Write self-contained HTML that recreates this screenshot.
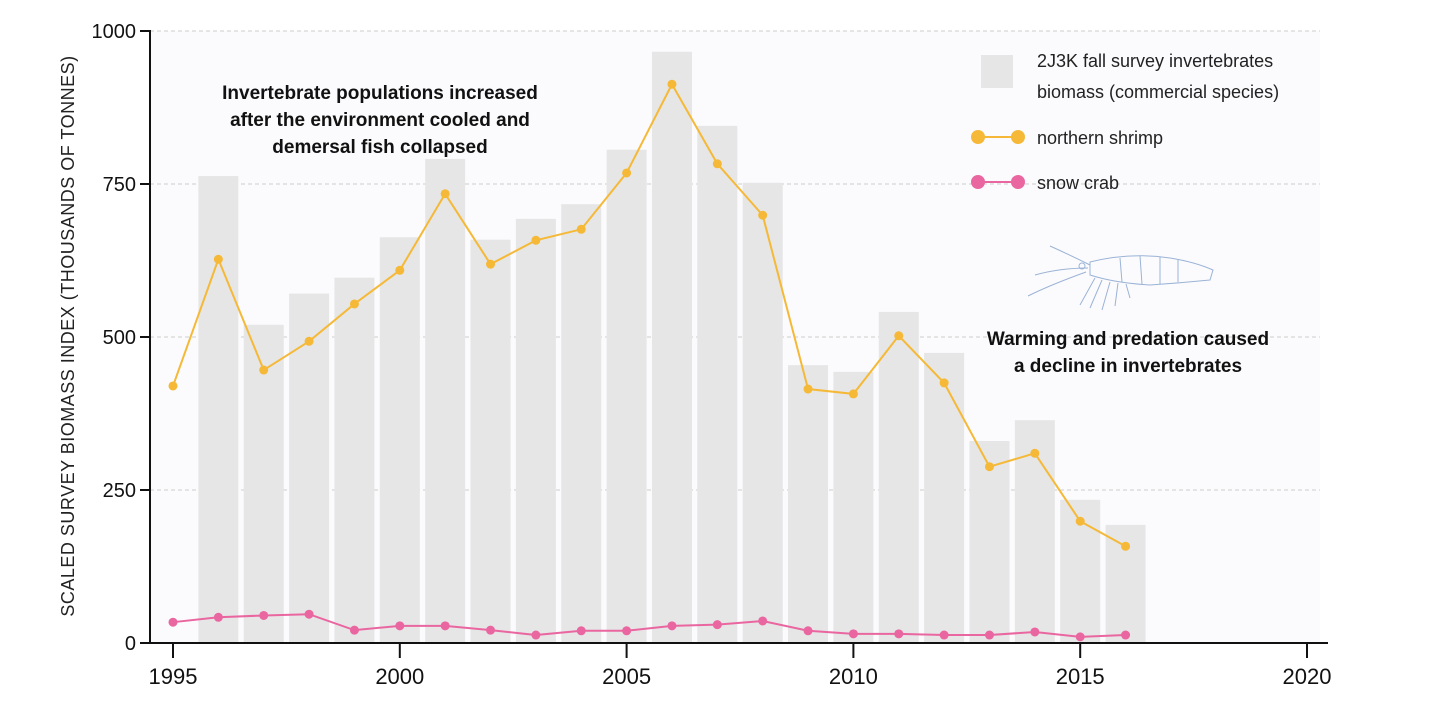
<!DOCTYPE html>
<html><head><meta charset="utf-8"><style>
body{margin:0;background:#fff;font-family:"Liberation Sans","DejaVu Sans",sans-serif}
svg{display:block}
</style></head><body>
<svg id="chart" width="1432" height="714" xmlns="http://www.w3.org/2000/svg">
<rect x="150" y="31" width="1170" height="612" fill="#fbfbfd"/>
<g id="grid"></g><g id="bars"></g><g id="lines"></g><g id="axes"></g>
<text transform="translate(74,336) rotate(-90)" text-anchor="middle" font-size="18" fill="#222" letter-spacing="0.5">SCALED SURVEY BIOMASS INDEX (THOUSANDS OF TONNES)</text>
<g font-size="19" font-weight="bold" fill="#111" text-anchor="middle">
<text x="380" y="99">Invertebrate populations increased</text>
<text x="380" y="126">after the environment cooled and</text>
<text x="380" y="153">demersal fish collapsed</text></g>
<g font-size="19" font-weight="bold" fill="#111" text-anchor="middle">
<text x="1128" y="345">Warming and predation caused</text>
<text x="1128" y="372">a decline in invertebrates</text></g>
<g font-size="18" fill="#222">
<rect x="981" y="55" width="32" height="33" fill="#e6e6e6"/>
<text x="1037" y="67">2J3K fall survey invertebrates</text>
<text x="1037" y="98">biomass (commercial species)</text>
<line x1="978" y1="137" x2="1018" y2="137" stroke="#f5b937" stroke-width="2"/>
<circle cx="978" cy="137" r="7" fill="#f5b937"/><circle cx="1018" cy="137" r="7" fill="#f5b937"/>
<text x="1037" y="144">northern shrimp</text>
<line x1="978" y1="182" x2="1018" y2="182" stroke="#ea66a0" stroke-width="2"/>
<circle cx="978" cy="182" r="7" fill="#ea66a0"/><circle cx="1018" cy="182" r="7" fill="#ea66a0"/>
<text x="1037" y="189">snow crab</text>
</g>
<g fill="none" stroke="#9bb3d6" stroke-width="1">
<path d="M1090 262 Q1130 252 1170 258 Q1195 262 1213 270 L1210 280 Q1180 283 1150 285 Q1115 283 1090 275 Z"/>
<path d="M1120 258 L1122 282 M1140 256 L1142 284 M1160 257 L1160 284 M1178 260 L1178 282"/>
<path d="M1090 265 Q1070 255 1050 246 M1088 268 Q1060 268 1035 275 M1086 272 Q1050 285 1028 296"/>
<path d="M1095 278 L1080 305 M1102 280 L1090 308 M1110 282 L1102 310 M1118 283 L1115 306 M1126 284 L1130 298"/>
<circle cx="1082" cy="266" r="3"/>
</g>
<script>
const years=[1996,1997,1998,1999,2000,2001,2002,2003,2004,2005,2006,2007,2008,2009,2010,2011,2012,2013,2014,2015,2016];
const biomass=[763,520,571,597,663,791,659,693,717,806,966,845,752,454,443,541,474,330,364,234,193];
const lineYears=[1995,1996,1997,1998,1999,2000,2001,2002,2003,2004,2005,2006,2007,2008,2009,2010,2011,2012,2013,2014,2015,2016];
const shrimp=[420,627,446,493,554,609,734,619,658,676,768,913,783,699,415,407,502,425,288,310,199,158];
const crab=[34,42,45,47,21,28,28,21,13,20,20,28,30,36,20,15,15,13,13,18,10,13];
const yTicks=[0,250,500,750,1000];
const xTicks=[1995,2000,2005,2010,2015,2020];
const NS="http://www.w3.org/2000/svg";
const X=y=>173+(y-1995)*45.36;
const Y=v=>643-v*0.612;
function mk(tag,attrs,parent){const e=document.createElementNS(NS,tag);for(const k in attrs)e.setAttribute(k,attrs[k]);document.getElementById(parent).appendChild(e);return e;}
yTicks.forEach(t=>{
 if(t>0){const g=mk('line',{x1:150,x2:1320,y1:Y(t),y2:Y(t),stroke:'#ccc','stroke-dasharray':'4,3'},'grid');
 
 }
 const tk=mk('line',{x1:140,x2:150,y1:Y(t),y2:Y(t),stroke:'#111','stroke-width':2},'axes');
 
 
 const l=mk('text',{x:136,y:Y(t)+7,'text-anchor':'end','font-size':20,fill:'#111'},'axes');l.textContent=t;
 
 
});
years.forEach((yr,i)=>{
 const b=mk('rect',{x:X(yr)-20,y:Y(biomass[i]),width:40,height:643-Y(biomass[i]),fill:'#e6e6e6'},'bars');
 
 
});
function series(vals,col,name){
 const p=mk('polyline',{points:lineYears.map((y,i)=>X(y)+','+Y(vals[i])).join(' '),fill:'none',stroke:col,'stroke-width':2},'lines');
 
 
 lineYears.forEach((y,i)=>{const c=mk('circle',{cx:X(y),cy:Y(vals[i]),r:4.5,fill:col},'lines');
 
 });
}
series(shrimp,'#f5b937','shrimp');
series(crab,'#ea66a0','crab');
const ya=mk('line',{x1:150,x2:150,y1:30,y2:644,stroke:'#111','stroke-width':2},'axes');


const xa=mk('line',{x1:149,x2:1328,y1:643,y2:643,stroke:'#111','stroke-width':2},'axes');


xTicks.forEach(t=>{
 const tk=mk('line',{x1:X(t),x2:X(t),y1:643,y2:658,stroke:'#111','stroke-width':2},'axes');
 
 
 const l=mk('text',{x:X(t),y:684,'text-anchor':'middle','font-size':22,fill:'#111'},'axes');l.textContent=t;
 
 
});
</script>
</svg>
</body></html>
